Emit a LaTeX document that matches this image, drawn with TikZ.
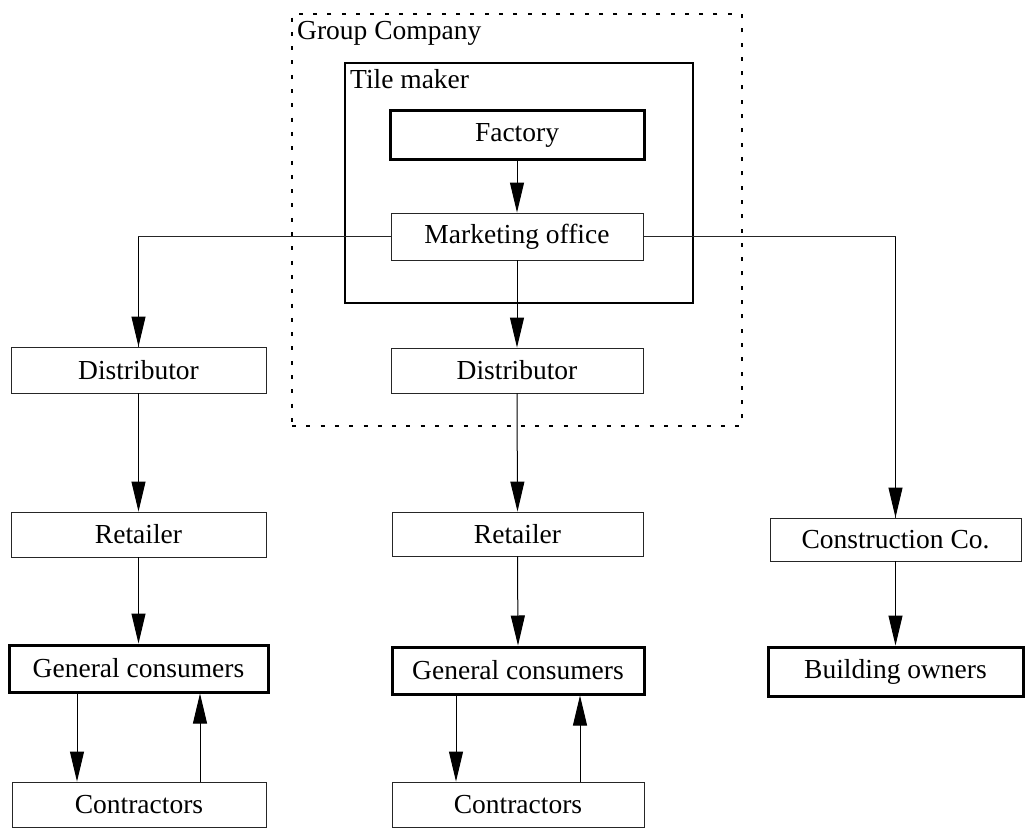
\documentclass[tikz,border=0pt]{standalone}
\usepackage{fontspec}
\setmainfont{Liberation Serif}
\usetikzlibrary{arrows.meta,positioning,calc}
\begin{document}
\begin{tikzpicture}[x=1pt,y=-1pt,
  every node/.style={font=\fontsize{27.5}{30}\selectfont, inner sep=0pt},
  thinbox/.style={draw=black!85, line width=0.9pt, rectangle},
  thickbox/.style={draw=black, line width=3pt, rectangle},
  groupbox/.style={draw=black, line width=2.6pt, dash pattern=on 4pt off 10.3pt, rectangle},
  makerbox/.style={draw=black, line width=1.5pt, rectangle},
  lbl/.style={anchor=base west},
  arr/.style={draw=black, line width=1pt, -{Triangle[length=30pt,width=14pt]}},
  link/.style={draw=black!85, line width=0.9pt}
]
\useasboundingbox (0,0) rectangle (1025,829);
\fill[white] (0,0) rectangle (1025,829);

% containers
\node[groupbox, minimum width=450pt, minimum height=412pt] (grp) at (517,220) {};
\node[makerbox, minimum width=348pt, minimum height=240pt] (maker) at (519,183) {};
\node[lbl] (grplbl) at (297,40) {Group Company};
\node[lbl] (makerlbl) at (350,89) {Tile maker};

% middle column
\node[thickbox, minimum width=254pt, minimum height=49pt] (factory) at (517,135.5) {Factory};
\node[thinbox, minimum width=252pt, minimum height=47pt] (mkt) at (517,236.5) {Marketing office};
\node[thinbox, minimum width=252pt, minimum height=45pt] (dist2) at (517,370.5) {Distributor};
\node[thinbox, minimum width=251pt, minimum height=44pt] (ret2) at (517.5,534) {Retailer};
\node[thickbox, minimum width=252pt, minimum height=47pt] (gc2) at (518,670.5) {General consumers};
\node[thinbox, minimum width=252pt, minimum height=45pt] (con2) at (518,804.5) {Contractors};

% left column
\node[thinbox, minimum width=255pt, minimum height=46pt] (dist1) at (138.5,370) {Distributor};
\node[thinbox, minimum width=255pt, minimum height=45pt] (ret1) at (138.5,534.5) {Retailer};
\node[thickbox, minimum width=259pt, minimum height=47pt] (gc1) at (138.5,668.5) {General consumers};
\node[thinbox, minimum width=254pt, minimum height=45pt] (con1) at (139,804.5) {Contractors};

% right column
\node[thinbox, minimum width=251pt, minimum height=43pt] (cons) at (895.5,539.5) {Construction Co.};
\node[thickbox, minimum width=255pt, minimum height=49pt] (bown) at (895.5,671.5) {Building owners};

% connectors
\draw[arr] (factory.south) -- (mkt.north);
\draw[arr] (mkt.south) -- (dist2.north);
\draw[arr] (dist2.south) -- (ret2.north);
\draw[arr] (ret2.south) -- (gc2.north);

\draw[link] (mkt.west) -| (dist1.north);
\draw[arr] (dist1.north |- mkt.west) -- (dist1.north);
\draw[arr] (dist1.south) -- (ret1.north);
\draw[arr] (ret1.south) -- (gc1.north);

\draw[link] (mkt.east) -| (cons.north);
\draw[arr] (cons.north |- mkt.east) -- (cons.north);
\draw[arr] (cons.south) -- (bown.north);

\coordinate (a1) at (77,0);
\coordinate (b1) at (200,0);
\coordinate (a2) at (456,0);
\coordinate (b2) at (580,0);
\draw[arr] (a1 |- gc1.south) -- (a1 |- con1.north);
\draw[arr] (b1 |- con1.north) -- (b1 |- gc1.south);
\draw[arr] (a2 |- gc2.south) -- (a2 |- con2.north);
\draw[arr] (b2 |- con2.north) -- (b2 |- gc2.south);
\end{tikzpicture}
\end{document}
